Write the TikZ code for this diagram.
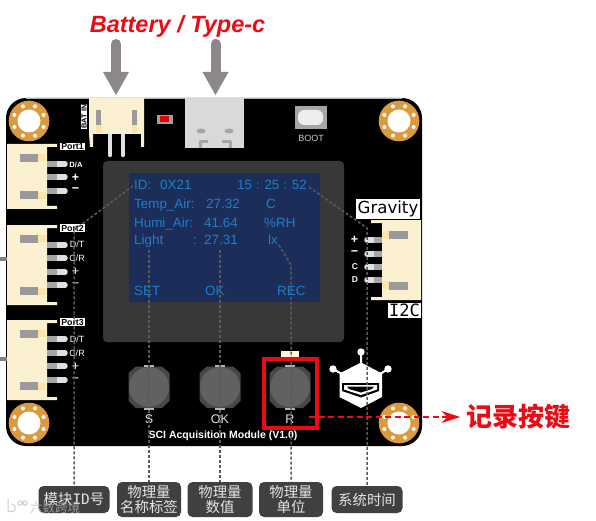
\documentclass[tikz,border=0pt]{standalone}
\usepackage{fontspec}
\setmainfont{Liberation Sans}
\newfontfamily\cjkfont{Noto Sans CJK SC}
\newfontfamily\gravfont{DejaVu Sans}
\newfontfamily\pinfont{DejaVu Sans Mono}
\usetikzlibrary{arrows.meta}
\definecolor{cream}{HTML}{FBF0CF}
\definecolor{padgray}{HTML}{9A9A9A}
\definecolor{padyel}{HTML}{FBE4A6}
\definecolor{copper}{HTML}{DB9A3E}
\definecolor{navy}{HTML}{1B2D58}
\definecolor{scrtext}{HTML}{1F7FC8}
\definecolor{leadgray}{HTML}{5A5A5A}
\definecolor{boxgray}{HTML}{404040}
\definecolor{arrowgray}{HTML}{8B878B}
\definecolor{alertred}{HTML}{EE0A14}
\tikzset{
  scrlabel/.style={anchor=base west,inner sep=0pt,text=scrtext,font=\fontsize{13.4}{15}\selectfont},
  portlabel/.style={fill=white,inner sep=0.8pt,text=black,font=\bfseries\fontsize{8.8}{9}\selectfont},
  pinlabel/.style={inner sep=0pt,text=white,font=\fontsize{9}{10}\selectfont},
  pinmark/.style={inner sep=0pt,text=white,font=\bfseries\fontsize{12.5}{13}\selectfont},
  btnlabel/.style={inner sep=0pt,text=white!90!black,font=\fontsize{12.5}{13}\selectfont},
  leader/.style={densely dashed,line width=1.5pt,draw=leadgray,line cap=butt},
  tagbox/.style={fill=boxgray,rounded corners=5pt,inner sep=0pt,align=center,text=white!90!black,
    font=\cjkfont\fontsize{14.4}{15.8}\selectfont},
  bigarrow/.style={draw=arrowgray,line width=10pt,line cap=round},
}
\begin{document}
\begin{tikzpicture}[x=1pt,y=-1pt,line cap=round,line join=round]
  \useasboundingbox (0,0) rectangle (596,521);
  % board
  \fill[black] (6,272) [rounded corners=20pt] -- (6,98) -- (422,98) -- (422,446) -- (6,446) -- cycle;
  \draw[line width=0.8pt,gray!60] (26,98) -- (402,98);
  \foreach \hx/\hy in {29/121,399/121,29/423,399/423} {
    \fill[copper] (\hx,\hy) circle (20.3);
    \fill[white] (\hx,\hy) circle (11.5);
    \foreach \ang in {22.5,67.5,...,337.5}
      \fill[white] (\hx,\hy) ++(\ang:15.8) circle (2);
  }
  % side bits
  \fill[gray] (0,257) rectangle (7,261);
  \fill[gray] (0,357) rectangle (7,361);
  % left connectors
  \foreach \ya/\yb in {144/209,225/305,320/400} {
    \fill[cream] (7,\ya) -- (57,\ya) -- (57,\ya+3) -- (47,\ya+3) -- (47,\yb-3) -- (57,\yb-3) -- (57,\yb) -- (7,\yb) -- cycle;
    \fill[padyel] (38,\ya+10) rectangle (46,\ya+17);
    \fill[padyel] (38,\yb-17) rectangle (46,\yb-10);
    \fill[padgray] (20,\ya+10) rectangle (38,\ya+18);
    \fill[padgray] (20,\yb-18) rectangle (38,\yb-10);
  }
  \foreach \py in {164,177,191,245,258,272,285,339,353,366,380} {
    \draw[line width=5.5pt,white!88!black] (50,\py) -- (65,\py);
    \draw[line width=5.5pt,line cap=butt,gray!70] (47,\py) -- (57,\py);
  }
  \node[portlabel] (portone) at (72.5,146.5) {Port1};
  \node[portlabel] (porttwo) at (72.5,228) {Port2};
  \node[portlabel] (portthree) at (72.5,322) {Port3};
  \node[pinlabel,font=\bfseries\fontsize{7.6}{8}\selectfont] (pinda) at (76,164.5) {D/A};
  \node[pinmark] (pinaplus) at (75.5,177.5) {+};
  \node[pinmark] (pinaminus) at (75.5,190.5) {−};
  \node[pinlabel] (pindt) at (77,244.5) {D/T};
  \node[pinlabel] (pincr) at (77,258) {C/R};
  \node[pinmark,font=\fontsize{12.5}{13}\selectfont] (pinbplus) at (75.5,271.5) {+};
  \node[pinmark,font=\fontsize{12.5}{13}\selectfont] (pinbminus) at (75.5,285) {−};
  \node[pinlabel] (pindtb) at (77,339) {D/T};
  \node[pinlabel] (pincrb) at (77,353) {C/R};
  \node[pinmark,font=\fontsize{12.5}{13}\selectfont] (pincplus) at (75.5,366.5) {+};
  \node[pinmark,font=\fontsize{12.5}{13}\selectfont] (pincminus) at (75.5,380) {−};
  % battery socket
  \draw[line width=4.5pt,white!88!black] (110,134) -- (110,155);
  \draw[line width=4.5pt,white!88!black] (123,134) -- (123,155);
  \fill[cream] (89,98) -- (144,98) -- (144,147) -- (141,147) -- (141,134) -- (93,134) -- (93,147) -- (90,147) -- (89,134) -- cycle;
  \fill[padyel] (96,124) rectangle (102,133);
  \fill[padyel] (132,124) rectangle (137,133);
  \fill[padgray] (96,110) rectangle (101,125);
  \fill[padgray] (132,110) rectangle (137,125);
  \node[fill=white,inner sep=0.7pt,rotate=90,font=\bfseries\fontsize{7.4}{8}\selectfont] (batin) at (84,116.5) {BAT IN};
  % led
  \fill[gray!75] (157,115) rectangle (173,124);
  \fill[red!90!black] (160,116.5) rectangle (169,122.5);
  % type-c
  \fill[white!85!black] (185,98) rectangle (243.5,148);
  \fill[gray!70] (201,131) ellipse (4.5 and 2.5);
  \fill[gray!70] (229,131) ellipse (4.5 and 2.5);
  \draw[line width=3pt,gray!70,line cap=butt] (208,142) -- (200,142) -- (200,148);
  \draw[line width=3pt,gray!70,line cap=butt] (222,142) -- (230,142) -- (230,148);
  % boot
  \fill[gray!70] (295,106) rectangle (327,129);
  \fill[white!93!black,rounded corners=6pt] (298,110) rectangle (323,125);
  \node[inner sep=0pt,text=white!80!black,font=\fontsize{9}{10}\selectfont] (boottext) at (311,138) {BOOT};
  % display
  \fill[black!78,rounded corners=4pt] (103,161) rectangle (344,342);
  \fill[navy] (129,173) rectangle (320,302);
  \node[scrlabel] (idname) at (134,190) {ID:};
  \node[scrlabel] (idval) at (160,190) {0X21};
  \node[scrlabel] (timeval) at (237,190) {15 : 25 : 52};
  \node[scrlabel] (tempname) at (134,209) {Temp\_Air:};
  \node[scrlabel] (tempval) at (206,209) {27.32};
  \node[scrlabel] (tempunit) at (266,209) {C};
  \node[scrlabel] (huminame) at (134,227) {Humi\_Air:};
  \node[scrlabel] (humival) at (204,227) {41.64};
  \node[scrlabel] (humiunit) at (264,227) {\%RH};
  \node[scrlabel] (lightname) at (134,244) {Light};
  \node[scrlabel] (lightsep) at (193,244) {:};
  \node[scrlabel] (lightval) at (204,244) {27.31};
  \node[scrlabel] (lightunit) at (268,244) {lx};
  \node[scrlabel] (setkey) at (134,295) {SET};
  \node[scrlabel] (okkey) at (205,295) {OK};
  \node[scrlabel] (reckey) at (277,295) {REC};
  % right connector
  \foreach \py in {240,254,267,280} {
    \draw[line width=5.5pt,white!88!black] (367,\py) -- (378,\py);
    \draw[line width=5.5pt,line cap=butt,gray!70] (374,\py) -- (382,\py);
  }
  \fill[cream] (371,220) -- (421,220) -- (421,300) -- (371,300) -- (371,297) -- (382,297) -- (382,223) -- (371,223) -- cycle;
  \fill[padyel] (382,231) rectangle (390,239);
  \fill[padyel] (382,281) rectangle (390,289);
  \fill[padgray] (389,231) rectangle (408,239);
  \fill[padgray] (389,282) rectangle (408,290);
  \node[fill=white,inner sep=0pt,minimum width=64pt,minimum height=20pt,font=\gravfont\fontsize{16.6}{18}\selectfont] (gravity) at (388,209) {Gravity};
  \node[fill=white,inner sep=0pt,minimum width=33pt,minimum height=15pt,font=\pinfont\fontsize{17}{18}\selectfont] (itwoc) at (404.5,310.5) {I2C};
  \node[pinmark] (rplus) at (354.5,240) {+};
  \node[pinmark] (rminus) at (354.5,253.5) {−};
  \node[pinmark,font=\bfseries\fontsize{8.5}{9}\selectfont] (rc) at (355,267) {C};
  \node[pinmark,font=\bfseries\fontsize{8.5}{9}\selectfont] (rd) at (355,280) {D};
  % buttons
  \foreach \bx/\bname in {149/S,220/OK,290/R} {
    \fill[black!72] (\bx-20.5,373) -- (\bx-13,366.5) -- (\bx+13,366.5) -- (\bx+20.5,373) -- (\bx+20.5,401) -- (\bx+13,408) -- (\bx-13,408) -- (\bx-20.5,401) -- cycle;
    \fill[black!62!white,draw=none] (\bx,387) circle (20);
    \fill[gray!60] (\bx-5,364.5) rectangle (\bx+5,367);
    \fill[gray!60] (\bx-5,408) rectangle (\bx+5,410);
    \node[btnlabel] (key\bname) at (\bx,419.5) {\bname};
  }
  \fill[white!85!yellow] (281,351) rectangle (299,357);
  \node[inner sep=0pt,text=white,font=\bfseries\fontsize{10.5}{11}\selectfont] (boardname) at (223,436) {SCI Acquisition Module (V1.0)};
  % logo
  \fill[white] (361,352) circle (3.7) (333,369) circle (3.7) (388,369) circle (3.7);
  \draw[white,line width=2pt] (361,352) -- (361,364) (333,369) -- (342,374) (388,369) -- (380,374);
  \fill[white] (361,362.5) -- (382,373.5) -- (382,397) -- (361,408) -- (339.5,397) -- (339.5,373.5) -- cycle;
  \fill[black] (342,383) -- (379,383) -- (379,391) -- (361,397.5) -- (342,391) -- cycle;
  \fill[white] (344,385) -- (377,385) -- (377,389.5) -- (361,395) -- (344,389.5) -- cycle;
  \fill[black] (347,386.5) -- (374,386.5) -- (372,389) -- (361,392.5) -- (349,389) -- cycle;
  % tags
  \node[tagbox,minimum width=71pt,minimum height=27pt] (tagid) at (74,499.5) {模块{\pinfont ID}号};
  \node[tagbox,minimum width=64pt,minimum height=35pt] (tagname) at (149,499.5) {物理量\\名称标签};
  \node[tagbox,minimum width=65pt,minimum height=35pt] (tagvalue) at (220,499.5) {物理量\\数值};
  \node[tagbox,minimum width=64pt,minimum height=35pt] (tagunit) at (291,499.5) {物理量\\单位};
  \node[tagbox,minimum width=71pt,minimum height=27pt] (tagtime) at (367,499.5) {系统时间};
  % leaders
  \coordinate (idbend) at (74,230);
  \coordinate (idstart) at (133,186);
  \coordinate (namestart) at (149,250);
  \coordinate (valuestart) at (220,250);
  \coordinate (unitstart) at (279,245);
  \coordinate (unitbend) at (291,265);
  \coordinate (timestart) at (309,187);
  \coordinate (timebend) at (367,228);
  \draw[leader] (idstart) -- (idbend) -- (tagid.north);
  \draw[leader] (namestart) -- (tagname.north);
  \draw[leader] (valuestart) -- (tagvalue.north);
  \draw[leader] (unitstart) -- (unitbend) -- (tagunit.north);
  \draw[leader] (timestart) -- (timebend) -- (tagtime.north);
  % record key callout
  \draw[alertred,line width=4pt,line join=miter] (263.5,358.5) rectangle (316.5,428);
  \node[inner sep=0pt,text=alertred,font=\cjkfont\bfseries\fontsize{26}{28}\selectfont] (recordtext) at (518.5,417) {记录按键};
  \coordinate (recordstart) at (309,417);
  \draw[alertred,line width=1.5pt,dash pattern=on 6pt off 3.5pt,line cap=butt,shorten >=6pt,-{Stealth[length=19pt,width=12pt]}] (recordstart) -- (recordtext.west);
  % power callout
  \node[inner sep=0pt,text=alertred,font=\bfseries\itshape\fontsize{23.5}{25}\selectfont] (powertext) at (177.5,26.5) {Battery / Type-c};
  \coordinate (batstart) at (116,44);
  \coordinate (batend) at (116,95);
  \coordinate (usbstart) at (215.5,44);
  \coordinate (usbend) at (215.5,95);
  \draw[bigarrow] (batstart) -- (116,75);
  \draw[bigarrow] (usbstart) -- (215.5,75);
  \fill[arrowgray] (103,72) -- (129,72) -- (batend) -- cycle;
  \fill[arrowgray] (202.5,72) -- (228.5,72) -- (usbend) -- cycle;
  % watermark
  \node[inner sep=0pt,text=white!72!black,opacity=0.75,font=\cjkfont\fontsize{12.5}{13}\selectfont] (watermark) at (55,508) {六数跨境};
  \draw[white!72!black,opacity=0.75,line width=1pt] (8,498) -- (8,511) .. controls (14,514) and (19,508) .. (12,504);
  \draw[white!72!black,opacity=0.75,line width=1pt] (20,503) circle (2.2) (25,503) circle (2.2);
\end{tikzpicture}
\end{document}
